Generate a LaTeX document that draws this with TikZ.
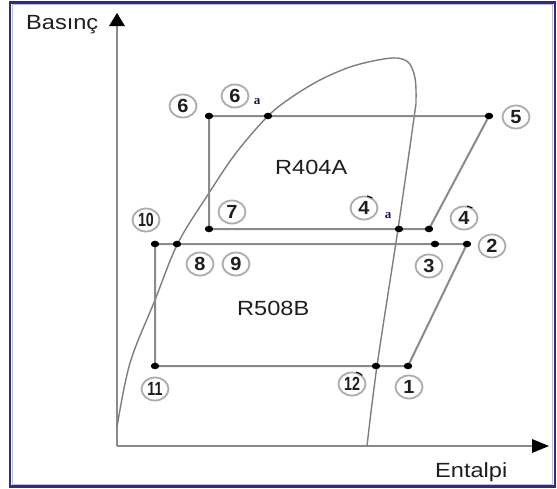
\documentclass[tikz,border=0pt]{standalone}
\usepackage{fontspec}
\setmainfont[FakeStretch=1.15]{Liberation Sans}
\newfontfamily\digitfont[FakeStretch=1.05]{Liberation Sans}
\newfontfamily\narrowdigits[FakeStretch=0.75]{Liberation Sans}
\newfontfamily\subfont{Liberation Serif}
\usetikzlibrary{shapes.geometric}
\definecolor{frameblue}{HTML}{2B2D86}
\definecolor{halo}{HTML}{BDBDE0}
\definecolor{linegray}{HTML}{8A8A8A}
\definecolor{domegray}{HTML}{7E7E7E}
\definecolor{ink}{HTML}{1E1E1E}
\begin{document}
\begin{tikzpicture}[x=1pt,y=-1pt,
  cycleline/.style={draw=linegray, line width=2pt},
  domeline/.style={draw=domegray, line width=1.4pt},
  axisline/.style={draw=linegray, line width=1.8pt},
  statedot/.style={fill=black},
  numlbl/.style={ellipse, draw=gray!65, line width=1.8pt, minimum width=27pt,
    minimum height=23pt, inner sep=0pt, text=ink,
    font=\digitfont\bfseries\fontsize{19}{19}\selectfont},
  widelbl/.style={numlbl, font=\narrowdigits\bfseries\fontsize{19}{19}\selectfont},
  sublbl/.style={inner sep=0pt, text=ink!70!blue, font=\subfont\bfseries\fontsize{13}{13}\selectfont},
  plaintext/.style={inner sep=0pt, text=ink, font=\fontsize{20.5}{20.5}\selectfont},
  tickmark/.style={draw=black, line width=1.1pt}
]
\useasboundingbox (0,0) rectangle (557,488);
\fill[white] (0,0) rectangle (557,488);

% frame
\draw[frameblue, line width=2.2pt] (10,2.5) rectangle (555,486.5);
\draw[halo, line width=0.8pt] (12.2,4.6) rectangle (552.8,484.4);

% axes
\coordinate (O) at (117,446);
\coordinate (ytip) at (117,13);
\coordinate (xtip) at (549,446);
\draw[axisline] (O) -- ([yshift=-12]ytip);
\draw[axisline] (O) -- ([xshift=-16]xtip);
\fill[black] (ytip) -- ++(-8,13) -- ++(16,0) -- cycle;
\fill[black] (xtip) -- ++(-17,-7) -- ++(0,14) -- cycle;
\node[plaintext, anchor=base west] (pres) at (26,29) {Basınç};
\node[plaintext, anchor=base west] (enth) at (435,477) {Entalpi};

% saturation dome
\draw[domeline] plot[smooth, tension=0.55] coordinates {
  (117,427) (130,363) (155,300) (178,243) (209,193) (236,153) (268,116)
  (292,97) (320,80) (350,67) (378,60) (397,58) (409,63) (415,78) (416,100)
  (414,118) (398,229) (377,366) (367,446)};

% state points
\coordinate (p1) at (408,366);
\coordinate (p2) at (467,244);
\coordinate (p3) at (435,244);
\coordinate (p4) at (429,229);
\coordinate (p4a) at (399,229);
\coordinate (p5) at (489,116);
\coordinate (p6) at (209,116);
\coordinate (p6a) at (268,116);
\coordinate (p7) at (209,229);
\coordinate (p8) at (177,244);
\coordinate (p10) at (155,244);
\coordinate (p11) at (155,366);
\coordinate (p12) at (376,366);

% high stage cycle (R404A)
\draw[cycleline] (p6) -- (p6a) -- (p5) -- (p4) -- (p4a) -- (p7) -- cycle;
% low stage cycle (R508B)
\draw[cycleline] (p10) -- (p8) -- (p3) -- (p2) -- (p1) -- (p12) -- (p11) -- cycle;

\foreach \p in {p1,p2,p3,p4,p4a,p5,p6,p6a,p7,p8,p10,p11,p12}
  \fill[statedot] (\p) ellipse [x radius=4.2pt, y radius=3.3pt];

% state labels
\node[numlbl] (n1) at (409,387) {1};
\node[numlbl] (n2) at (492,246) {2};
\node[numlbl] (n3) at (429,266) {3};
\node[numlbl] (n4) at (464,218) {4};
\node[numlbl] (n4a) at (364,208) {4};
\node[sublbl] (s4a) at (388,216) {a};
\node[numlbl] (n5) at (516,117) {5};
\node[numlbl] (n6) at (183,106) {6};
\node[numlbl] (n6a) at (235,96) {6};
\node[sublbl] (s6a) at (257,102) {a};
\node[numlbl] (n7) at (232,212) {7};
\node[numlbl] (n8) at (200,264) {8};
\node[numlbl] (n9) at (236,264) {9};
\node[widelbl] (n10) at (146,220) {10};
\node[widelbl] (n11) at (155,389) {11};
\node[widelbl] (n12) at (352,384) {12};

\draw[tickmark] (n4.75) to[bend left=15] (n4.50);
\draw[tickmark] (n4a.75) to[bend left=15] (n4a.50);
\draw[tickmark] (n12.70) to[bend left=15] (n12.40);

% refrigerant names
\node[plaintext, anchor=base west] (r404) at (275,174) {R404A};
\node[plaintext, anchor=base west] (r508) at (237,315) {R508B};
\end{tikzpicture}
\end{document}
